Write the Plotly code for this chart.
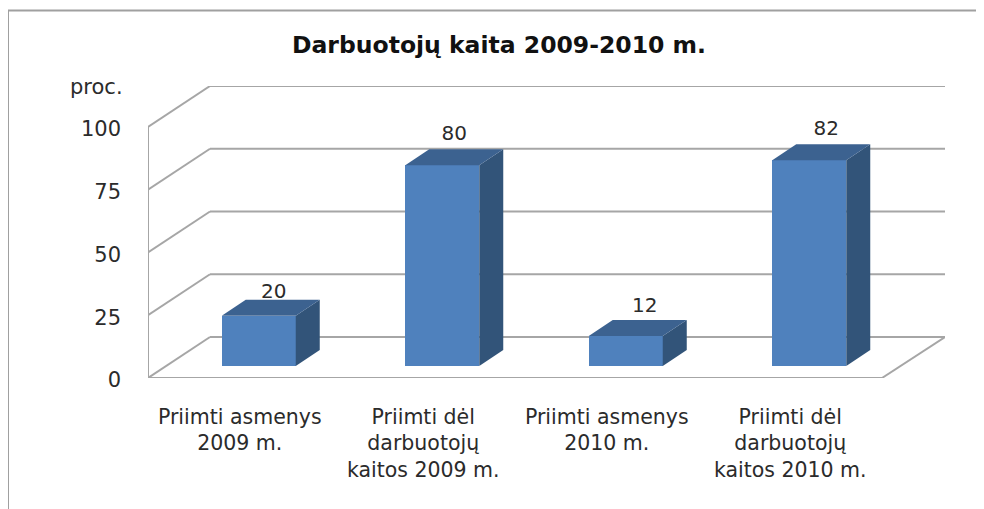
import plotly.graph_objects as go

TITLE = "Darbuotojų kaita 2009-2010 m."
UNIT = "proc."
CATEGORIES = [
    "Priimti asmenys<br>2009 m.",
    "Priimti dėl<br>darbuotojų<br>kaitos 2009 m.",
    "Priimti asmenys<br>2010 m.",
    "Priimti dėl<br>darbuotojų<br>kaitos 2010 m.",
]
VALUES = [20, 80, 12, 82]
Y_TICKS = [0, 25, 50, 75, 100]

FONT = "DejaVu Sans"
TEXT = "#2b2b2b"
GRID = "#a6a6a6"
FRONT = "#4f81bd"
SIDE = "#325479"
TOP = "#3c6290"

# the page body has an 8px margin, so the figure starts at (8, 8) in the window
PAGE = 8
W, H = 984 - PAGE, 509 - PAGE
# plot box in figure pixels, the rest of the "3D" look is offsets in axis units
L, R, T, B = 148 - PAGE, 945 - PAGE, 86 - PAGE, 378 - PAGE
PX_X = 183.5
PX_Y = 2.51
x_range = [-0.5, -0.5 + (R - L) / PX_X]
y_range = [0, (B - T) / PX_Y]

WALL_DX, WALL_DY = 62 / PX_X, 41 / PX_Y
BAR_DX, BAR_DY = 24 / PX_X, 16 / PX_Y
BAR_SHIFT = 19 / PX_X
BAR_BASE = 12 / PX_Y
BAR_W = 74 / PX_X

# value labels are not placed evenly in the original, pixel nudges
LABEL_NUDGE_X = [3, 0, 7, 5]
LABEL_NUDGE_Y = [-3, 4, 3, 4]

x_idx = list(range(len(CATEGORIES)))
front_r = x_range[0] + 4

fig = go.Figure()

# front faces
fig.add_trace(go.Bar(
    x=[i + BAR_SHIFT for i in x_idx], y=VALUES, base=BAR_BASE, width=BAR_W,
    marker=dict(color=FRONT, line=dict(width=0)), showlegend=False,
))

# side and top faces
for i, v in zip(x_idx, VALUES):
    x0 = i + BAR_SHIFT - BAR_W / 2
    x1 = i + BAR_SHIFT + BAR_W / 2
    y0, y1 = BAR_BASE, BAR_BASE + v
    fig.add_trace(go.Scatter(
        x=[x1, x1 + BAR_DX, x1 + BAR_DX, x1, x1],
        y=[y0, y0 + BAR_DY, y1 + BAR_DY, y1, y0],
        mode="lines", fill="toself", fillcolor=SIDE, line=dict(width=0),
        hoverinfo="skip", showlegend=False,
    ))
    fig.add_trace(go.Scatter(
        x=[x0, x1, x1 + BAR_DX, x0 + BAR_DX, x0],
        y=[y1, y1, y1 + BAR_DY, y1 + BAR_DY, y1],
        mode="lines", fill="toself", fillcolor=TOP, line=dict(width=0),
        hoverinfo="skip", showlegend=False,
    ))

# value labels sit above the back edge of each bar
fig.add_trace(go.Scatter(
    x=[i + BAR_SHIFT + BAR_DX / 2 + n / PX_X for i, n in zip(x_idx, LABEL_NUDGE_X)],
    y=[BAR_BASE + v + BAR_DY + n / PX_Y for v, n in zip(VALUES, LABEL_NUDGE_Y)],
    mode="text", text=[str(v) for v in VALUES], textposition="top center",
    textfont=dict(family=FONT, size=20, color=TEXT),
    hoverinfo="skip", showlegend=False,
))

# back wall gridlines, drawn under the bars
shapes = []
def grid_line(x0, y0, x1, y1):
    shapes.append(dict(
        type="line", xref="x", yref="y", x0=x0, y0=y0, x1=x1, y1=y1,
        layer="below", line=dict(color=GRID, width=2),
    ))

for t in Y_TICKS:
    grid_line(x_range[0], t, x_range[0] + WALL_DX, t + WALL_DY)
    grid_line(x_range[0] + WALL_DX, t + WALL_DY, x_range[1], t + WALL_DY)
grid_line(x_range[0], 0, x_range[0], Y_TICKS[-1])
grid_line(x_range[0], 0, front_r, 0)
grid_line(front_r, 0, x_range[1], WALL_DY)

# paper position from window pixels
def px(x):
    return (x - PAGE - L) / (R - L)
def py(y):
    return (B - (y - PAGE)) / (B - T)

# outer chart frame, only left and top edges are in the picture
for x0, y0, x1, y1 in [(8, 10.5, 8, 509), (8, 10.5, 984, 10.5)]:
    shapes.append(dict(
        type="line", xref="paper", yref="paper",
        x0=px(x0), y0=py(y0), x1=px(x1), y1=py(y1),
        line=dict(color="#a0a0a0", width=2),
    ))

fig.update_layout(
    width=W, height=H,
    margin=dict(l=L, r=W - R, t=T, b=H - B, pad=0),
    paper_bgcolor="white", plot_bgcolor="white",
    font=dict(family=FONT, color=TEXT, size=20),
    title=dict(
        text=f"<b>{TITLE}</b>", x=(499 - PAGE) / W, xanchor="center",
        y=1 - (45 - PAGE) / H, yanchor="middle",
        font=dict(family=FONT, size=23.5, color="#111111"),
    ),
    xaxis=dict(
        range=x_range, tickmode="array", tickvals=x_idx, ticktext=CATEGORIES,
        showgrid=False, zeroline=False, showline=False, ticks="",
        ticklabelstandoff=24, tickangle=0, tickfont=dict(size=20.5),
    ),
    yaxis=dict(
        range=y_range, tickmode="array", tickvals=Y_TICKS,
        showgrid=False, zeroline=False, showline=False, ticks="",
        ticklabelstandoff=26, ticklabelshift=2, tickfont=dict(size=21),
    ),
    shapes=shapes,
    annotations=[dict(
        text=UNIT, xref="paper", yref="paper", x=px(125), y=py(87),
        xanchor="right", yanchor="middle", showarrow=False,
        font=dict(family=FONT, size=21, color=TEXT),
    )],
    bargap=0,
    showlegend=False,
)

fig.write_html("out.html")
